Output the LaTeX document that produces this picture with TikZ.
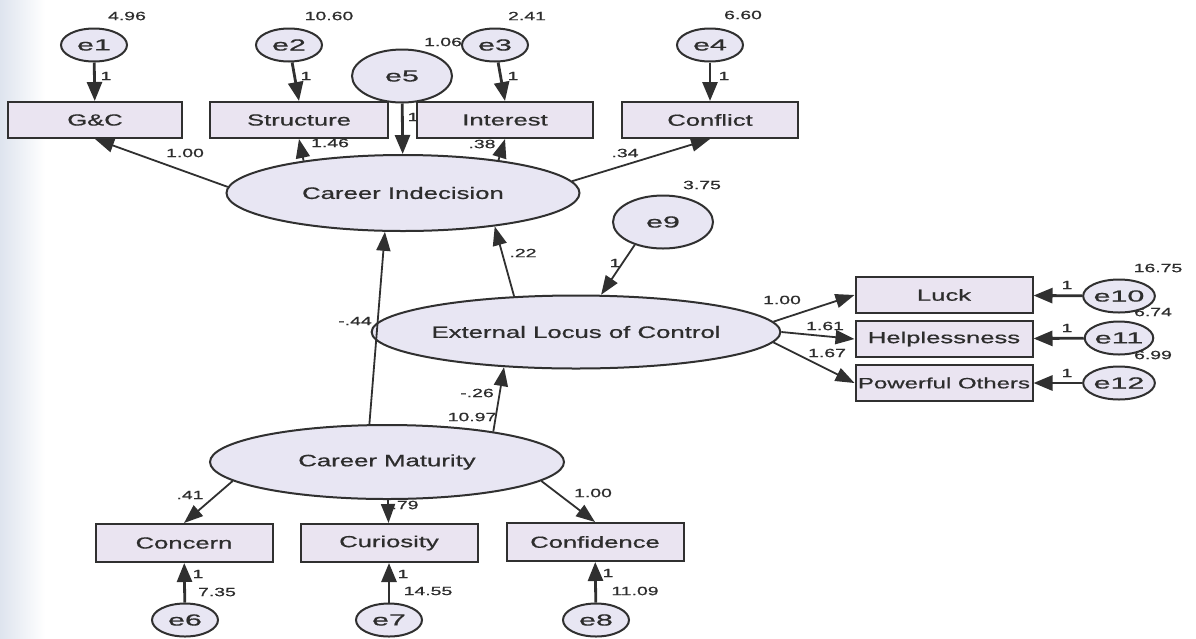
\documentclass[tikz,border=0pt]{standalone}
\usepackage{fontspec}
\setmainfont{Liberation Sans}[FakeBold=0.6]
\usepackage{graphicx}
\usetikzlibrary{shapes.geometric,arrows.meta,calc}

\definecolor{inkc}{RGB}{48,48,48}
\definecolor{txtc}{RGB}{45,45,45}
\definecolor{boxfill}{RGB}{234,228,241}
\definecolor{latfill}{RGB}{232,230,243}
\definecolor{scanedge}{RGB}{222,228,238}

\pgfdeclarelayer{paper}
\pgfdeclarelayer{labels}
\pgfsetlayers{paper,labels,main}

% widened text for the different element kinds
\newcommand\cdLat[1]{\scalebox{1.56}[1]{#1}}
\newcommand\cdBox[1]{\scalebox{1.6}[1]{#1}}
\newcommand\cdErr[1]{\scalebox{1.9}[1]{#1}}
\newcommand\cdNum[1]{\scalebox{1.62}[1]{#1}}

\tikzset{
  obs/.style={rectangle, draw=inkc, fill=boxfill, line width=2pt,
    minimum width=177pt, minimum height=36pt, inner sep=0pt, text=txtc,
    font=\fontsize{16}{18}\selectfont},
  lat/.style={ellipse, draw=inkc, fill=latfill, line width=2pt,
    inner sep=0pt, text=txtc, font=\fontsize{16.5}{18}\selectfont},
  err/.style={ellipse, draw=inkc, fill=latfill, line width=2pt,
    minimum width=66pt, minimum height=33pt, inner sep=0pt, text=txtc,
    font=\fontsize{16}{18}\selectfont},
  bigerr/.style={err, minimum width=100pt, minimum height=53pt},
  num/.style={inner sep=0pt, text=txtc, font=\fontsize{12}{13}\selectfont},
  load/.style={draw=inkc, line width=1.8pt, -{Triangle[length=19pt,width=14pt]}},
  errarr/.style={draw=inkc, line width=2.8pt, -{Triangle[length=19pt,width=15pt]}},
}

\begin{document}
\begin{tikzpicture}[x=1pt,y=-1pt]
\useasboundingbox (0,0) rectangle (1196,638);
\begin{pgfonlayer}{paper}
\fill[white] (0,0) rectangle (1196,638);
\shade[left color=scanedge, right color=white] (0,0) rectangle (45,638);
\end{pgfonlayer}

% indicator boxes
\node[obs, minimum width=174pt] (gc) at (95,120) {\cdBox{G\&C}};
\node[obs, minimum width=178pt] (st) at (299,120) {\cdBox{Structure}};
\node[obs, minimum width=176pt] (in) at (505,120) {\cdBox{Interest}};
\node[obs, minimum width=176pt] (cf) at (710,120) {\cdBox{Conflict}};
\node[obs] (luck) at (944,295) {\cdBox{Luck}};
\node[obs] (help) at (944,339) {\cdBox{Helplessness}};
\node[obs, font=\fontsize{15}{17}\selectfont] (pow) at (944,383) {\cdBox{Powerful Others}};
\node[obs, minimum height=38pt] (con) at (184,543) {\cdBox{Concern}};
\node[obs, minimum height=38pt] (cur) at (389,543) {\cdBox{Curiosity}};
\node[obs, minimum height=38pt] (conf) at (595,542) {\cdBox{Confidence}};

% latent variables
\node[lat, minimum width=353pt, minimum height=76pt] (ci) at (403,193) {\cdLat{Career Indecision}};
\node[lat, minimum width=353pt, minimum height=73pt] (el) at (576,332) {\cdLat{External Locus of Control}};
\node[lat, minimum width=354pt, minimum height=74pt] (cm) at (387,462) {\cdLat{Career Maturity}};

% error terms
\node[err] (e1) at (94,45) {\cdErr{e1}};
\node[err] (e2) at (289,45) {\cdErr{e2}};
\node[err] (e3) at (495,45) {\cdErr{e3}};
\node[err] (e4) at (710,45) {\cdErr{e4}};
\node[bigerr] (e5) at (402,76) {\cdErr{e5}};
\node[bigerr] (e9) at (663,222) {\cdErr{e9}};
\node[err] (e10) at (1119,296) {\cdErr{e10}};
\node[err] (e11) at (1119,338) {\cdErr{e11}};
\node[err] (e12) at (1119,383) {\cdErr{e12}};
\node[err] (e6) at (185,620) {\cdErr{e6}};
\node[err] (e7) at (389,620) {\cdErr{e7}};
\node[err] (e8) at (596,620) {\cdErr{e8}};

% error paths
\draw[errarr] (e1) -- (gc);
\draw[errarr] (e2) -- (st.north);
\draw[errarr] (e3) -- (in.north);
\draw[errarr] (e4) -- (cf);
\draw[errarr] (e5) -- (ci);
\draw[load] (e9.219) -- (el.56);
\draw[errarr] (e10) -- (luck);
\draw[errarr] (e11) -- (help);
\draw[errarr] (e12) -- (pow);
\draw[errarr] (e6) -- (con);
\draw[errarr] (e7) -- (cur);
\draw[errarr] (e8) -- (conf);

% loadings and structural paths
\draw[load] (ci.178) -- (gc.south);
\draw[load] (ci.162) -- (st.south);
\draw[load] (ci.19) -- (in.south);
\draw[load] (ci.4) -- (cf.south);
\draw[load] (el.150) -- (ci.340);
\draw[load] (cm.115) -- (ci.245);
\draw[load] (cm.16) -- (el.206);
\draw[load] (el.3) -- (luck.west);
\draw[load] (el.east) -- (help.west);
\draw[load] (el.357) -- (pow.west);
\draw[load] (cm.187) -- (con.north);
\draw[load] (cm) -- (cur);
\draw[load] (cm.353) -- (conf.north);

% estimates
\begin{pgfonlayer}{labels}
\node[num] (v1) at (127,16) {\cdNum{4.96}};
\node[num] (v2) at (329,16) {\cdNum{10.60}};
\node[num] (v3) at (527,16) {\cdNum{2.41}};
\node[num] (v4) at (743,15) {\cdNum{6.60}};
\node[num] (v5) at (443,42) {\cdNum{1.06}};
\node[num] (v9) at (702,185) {\cdNum{3.75}};
\node[num] (v10) at (1158,268) {\cdNum{16.75}};
\node[num] (v11) at (1153,312) {\cdNum{6.74}};
\node[num] (v12) at (1153,355) {\cdNum{6.99}};
\node[num] (v6) at (217,592) {\cdNum{7.35}};
\node[num] (v7) at (428,591) {\cdNum{14.55}};
\node[num] (v8) at (635,591) {\cdNum{11.09}};
\node[num] (f1) at (106,76) {\cdNum{1}};
\node[num] (f2) at (306,76) {\cdNum{1}};
\node[num] (f3) at (513,76) {\cdNum{1}};
\node[num] (f4) at (724,76) {\cdNum{1}};
\node[num] (f5) at (413,117) {\cdNum{1}};
\node[num] (f9) at (615,263) {\cdNum{1}};
\node[num] (f10) at (1067,285) {\cdNum{1}};
\node[num] (f11) at (1067,328) {\cdNum{1}};
\node[num] (f12) at (1067,373) {\cdNum{1}};
\node[num] (f6) at (198,574) {\cdNum{1}};
\node[num] (f7) at (403,574) {\cdNum{1}};
\node[num] (f8) at (608,573) {\cdNum{1}};
\node[num] (l1) at (185,153) {\cdNum{1.00}};
\node[num] (l2) at (330,143) {\cdNum{1.46}};
\node[num] (l3) at (482,144) {\cdNum{.38}};
\node[num] (l4) at (625,153) {\cdNum{.34}};
\node[num] (p1) at (523,253) {\cdNum{.22}};
\node[num] (p2) at (355,321) {\cdNum{-.44}};
\node[num] (p3) at (477,393) {\cdNum{-.26}};
\node[num] (p4) at (472,417) {\cdNum{10.97}};
\node[num] (l5) at (782,300) {\cdNum{1.00}};
\node[num] (l6) at (825,326) {\cdNum{1.61}};
\node[num] (l7) at (827,353) {\cdNum{1.67}};
\node[num] (l8) at (190,495) {\cdNum{.41}};
\node[num] (l9) at (405,505) {\cdNum{.79}};
\node[num] (l10) at (593,493) {\cdNum{1.00}};
\end{pgfonlayer}
\end{tikzpicture}
\end{document}
